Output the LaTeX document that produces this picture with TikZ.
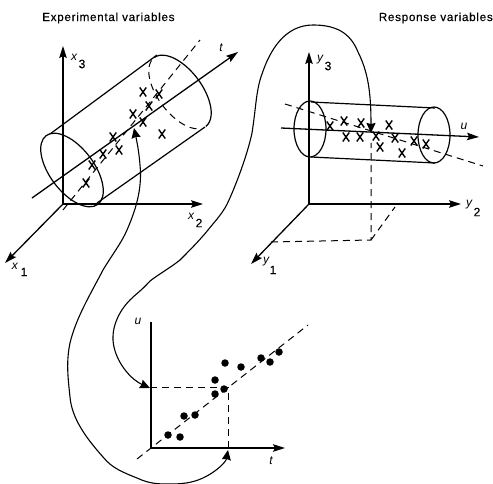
\documentclass[tikz,border=0pt]{standalone}
\usepackage{fontspec}
\setmainfont{Liberation Sans}
\usetikzlibrary{arrows.meta,shapes.misc}
\tikzset{
  x=1pt,y=-1pt,
  axis/.style={draw=black,line width=1.3pt,-{Stealth[length=12pt,width=7.5pt,inset=2pt]}},
  line/.style={draw=black,line width=1.2pt},
  curved/.style={draw=black,line width=1.1pt,{Stealth[length=10pt,width=9pt,inset=1pt]}-{Stealth[length=10pt,width=9pt,inset=1pt]}},
  dashl/.style={draw=black,line width=1pt,dash pattern=on 7pt off 5pt},
  xm/.style={cross out,draw=black,line width=1.4pt,minimum width=6.5pt,minimum height=9pt,inner sep=0pt,outer sep=0pt},
  dotm/.style={circle,fill=black,minimum size=7.5pt,inner sep=0pt},
  title/.style={font=\fontsize{11.7}{13}\selectfont\addfontfeature{LetterSpace=6,FakeBold=0.3},inner sep=0pt},
  lab/.style={font=\fontsize{12}{13}\selectfont\itshape,inner sep=0pt},
  num/.style={font=\fontsize{12}{13}\selectfont\addfontfeature{FakeBold=0.3},inner sep=0pt},
}
\begin{document}
\begin{tikzpicture}
\useasboundingbox (0,0) rectangle (493,484);
\fill[white] (0,0) rectangle (493,484);
\node[title,anchor=west] (t1) at (42,18) {Experimental variables};
\node[title,anchor=east] (t2) at (493,18) {Response variables};
% --- left 3D plot
\coordinate (xo) at (63,204);
\coordinate (x3e) at (63,46);
\coordinate (x2e) at (203,204);
\coordinate (x1e) at (5,263);
\draw[axis] (xo) -- (x3e);
\draw[axis] (xo) -- (x2e);
\draw[axis] (xo) -- (x1e);
\node[lab] (lx3) at (74,57) {x};
\node[num] (lx3n) at (82,64) {3};
\node[lab] (lx2) at (191,216) {x};
\node[num] (lx2n) at (199,223) {2};
\node[lab] (lx1) at (15,266) {x};
\node[num] (lx1n) at (24,272) {1};
\coordinate (c1) at (72,170);
\draw[line] (c1) circle [x radius=43,y radius=22,rotate=-53];
\coordinate (a1) at (50,134);
\coordinate (a2) at (157,55);
\coordinate (b1) at (97,203);
\coordinate (b2) at (205,127);
\draw[line] (a1) -- (a2);
\draw[line] (b1) -- (b2);
\draw[line] plot[smooth,domain=0:180,samples=25,variable=\t] ({180+43*cos(\t)*0.6+22*sin(\t)*0.8},{92+43*cos(\t)*0.8-22*sin(\t)*0.6});
\draw[dashl] plot[smooth,domain=190:340,samples=20,variable=\t] ({180+43*cos(\t)*0.6+22*sin(\t)*0.8},{92+43*cos(\t)*0.8-22*sin(\t)*0.6});
\coordinate (ts) at (32,198);
\coordinate (te) at (238,52);
\draw[axis] (ts) -- (te);
\node[lab] (lt) at (221,48) {t};
\coordinate (ds) at (63,210);
\coordinate (de) at (200,40);
\draw[dashl] (ds) -- (de);
\foreach \n/\p in {a/{86,183},b/{92,165},c/{103,154},d/{113,137},e/{119,150},f/{133,114},g/{143,122},h/{149,106},i/{143,92},j/{159,94},k/{162,134}}
  \node[xm] (x\n) at (\p) {};
% --- right 3D plot
\coordinate (yo) at (309,204);
\coordinate (y3e) at (309,52);
\coordinate (y2e) at (461,204);
\coordinate (y1e) at (251,264);
\draw[axis] (yo) -- (y3e);
\draw[axis] (yo) -- (y2e);
\draw[axis] (yo) -- (y1e);
\node[lab] (ly3) at (320,60) {y};
\node[num] (ly3n) at (328,66) {3};
\node[lab] (ly2) at (469,205) {y};
\node[num] (ly2n) at (477,212) {2};
\node[lab] (ly1) at (266,262) {y};
\node[num] (ly1n) at (273,270) {1};
\coordinate (p1) at (271,242);
\coordinate (p2) at (371,240);
\coordinate (p3) at (371,143);
\coordinate (p4) at (395,207);
\draw[dashl] (p1) -- (p2) -- (p3);
\draw[dashl] (p2) -- (p4);
\coordinate (c2) at (310,129);
\coordinate (c3) at (434,135);
\draw[line] (c2) circle [x radius=16,y radius=28];
\draw[line] (c3) circle [x radius=16,y radius=28];
\coordinate (ra1) at (311,102);
\coordinate (ra2) at (435,108);
\coordinate (rb1) at (311,157);
\coordinate (rb2) at (435,163);
\draw[line] (ra1) -- (ra2);
\draw[line] (rb1) -- (rb2);
\coordinate (us) at (281,128);
\coordinate (ue) at (479,137);
\draw[axis] (us) -- (ue);
\node[lab] (lu) at (464,126) {u};
\coordinate (rs) at (285,104);
\coordinate (re) at (483,166);
\draw[dashl] (rs) -- (re);
\foreach \n/\p in {a/{330,126},b/{344,121},c/{361,123},d/{346,137},e/{360,137},f/{376,136},g/{389,125},h/{380,147},i/{395,138},j/{414,141},k/{426,144},l/{402,153}}
  \node[xm] (r\n) at (\p) {};
% --- lower plot
\coordinate (lo) at (151,448);
\coordinate (lue) at (151,322);
\coordinate (lte) at (285,448);
\draw[line,line width=1.3pt] (lo) -- (lue);
\draw[axis] (lo) -- (lte);
\node[lab] (lu2) at (138,321) {u};
\node[lab] (lt2) at (271,461) {t};
\coordinate (ls) at (137,459);
\coordinate (le) at (308,325);
\draw[dashl] (ls) -- (le);
\coordinate (q1) at (150,387);
\coordinate (q2) at (228,387);
\coordinate (q3) at (228,448);
\draw[dashl] (q1) -- (q2) -- (q3);
\foreach \n/\p in {a/{168,435},b/{180,437},c/{184,416},d/{195,415},e/{215,394},f/{215,380},g/{224,389},h/{225,363},i/{241,367},j/{261,358},k/{270,362},l/{279,352}}
  \node[dotm] (d\n) at (\p) {};
% --- connecting curves
\coordinate (k1) at (228,450);
\coordinate (k2) at (134,128);
\coordinate (k3) at (150,388);
\coordinate (k4) at (371,133);
\draw[curved] (k1) .. controls (226,462) and (216,472) .. (203,478)
  .. controls (192,483) and (182,484) .. (170,484)
  .. controls (158,484) and (150,484) .. (137,478)
  .. controls (122,472) and (112,468) .. (103,457)
  .. controls (88,440) and (72,420) .. (70,397)
  .. controls (68,378) and (66,362) .. (70,343)
  .. controls (76,318) and (90,295) .. (103,270)
  .. controls (112,255) and (122,242) .. (127,230)
  .. controls (138,205) and (142,185) .. (140,165)
  .. controls (139,152) and (137,142) .. (k2);
\draw[curved] (k3) .. controls (132,380) and (118,365) .. (114,347)
  .. controls (110,330) and (118,312) .. (130,300)
  .. controls (138,292) and (140,292) .. (150,281)
  .. controls (162,272) and (170,268) .. (180,260)
  .. controls (188,252) and (200,240) .. (208,230)
  .. controls (216,220) and (224,212) .. (229,200)
  .. controls (238,180) and (248,152) .. (252,133)
  .. controls (256,108) and (256,90) .. (262,74)
  .. controls (270,50) and (285,25) .. (313,25)
  .. controls (335,25) and (350,32) .. (358,52)
  .. controls (368,72) and (371,92) .. (k4);
\end{tikzpicture}
\end{document}
